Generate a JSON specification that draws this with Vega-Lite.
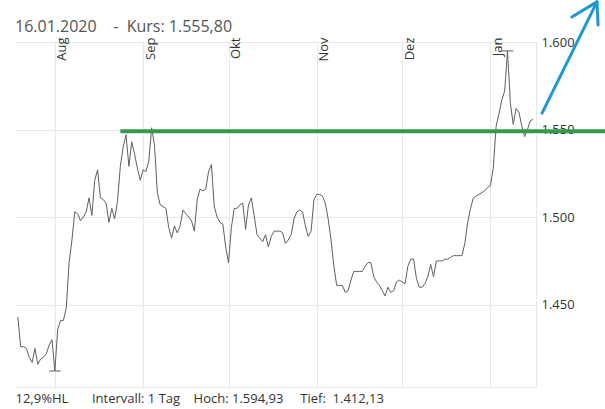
{
  "$schema": "https://vega.github.io/schema/vega-lite/v6.json",
  "width": 521,
  "height": 345,
  "autosize": "none",
  "padding": {"left": 15, "top": 42, "right": 69, "bottom": 22},
  "background": "white",
  "title": {
    "text": "16.01.2020\u00a0\u00a0\u00a0 -\u00a0 Kurs: 1.555,80",
    "anchor": "start",
    "frame": "group",
    "font": "Open Sans",
    "fontSize": 16,
    "fontWeight": "normal",
    "color": "#555555",
    "baseline": "alphabetic",
    "offset": 0,
    "dy": 48
  },
  "config": {
    "view": {"stroke": null},
    "axis": {"labelFont": "Open Sans", "titleFont": "Open Sans"}
  },
  "resolve": {"axis": {"x": "independent", "y": "independent"}},
  "layer": [
    {
      "data": {"values": [
        {"date":"2019-07-19","kurs":1443},{"date":"2019-07-20","kurs":1426},{"date":"2019-07-21","kurs":1426},{"date":"2019-07-22","kurs":1425},{"date":"2019-07-23","kurs":1420},{"date":"2019-07-24","kurs":1417},{"date":"2019-07-25","kurs":1425},{"date":"2019-07-26","kurs":1416},{"date":"2019-07-27","kurs":1419},{"date":"2019-07-28","kurs":1420},{"date":"2019-07-29","kurs":1422},{"date":"2019-07-30","kurs":1427},{"date":"2019-07-31","kurs":1430},
        {"date":"2019-08-01","kurs":1412.13},{"date":"2019-08-02","kurs":1436},{"date":"2019-08-03","kurs":1441},{"date":"2019-08-04","kurs":1441},{"date":"2019-08-05","kurs":1448},{"date":"2019-08-06","kurs":1474},{"date":"2019-08-07","kurs":1487},{"date":"2019-08-08","kurs":1503},{"date":"2019-08-09","kurs":1502},{"date":"2019-08-10","kurs":1498},{"date":"2019-08-11","kurs":1500},{"date":"2019-08-12","kurs":1503},{"date":"2019-08-13","kurs":1511},{"date":"2019-08-14","kurs":1501},{"date":"2019-08-15","kurs":1521},{"date":"2019-08-16","kurs":1527},{"date":"2019-08-17","kurs":1511},{"date":"2019-08-18","kurs":1510},{"date":"2019-08-19","kurs":1508},{"date":"2019-08-20","kurs":1497},{"date":"2019-08-21","kurs":1505},{"date":"2019-08-22","kurs":1499},{"date":"2019-08-23","kurs":1509},{"date":"2019-08-24","kurs":1529},{"date":"2019-08-25","kurs":1540},{"date":"2019-08-26","kurs":1547},{"date":"2019-08-27","kurs":1529},{"date":"2019-08-28","kurs":1543},{"date":"2019-08-29","kurs":1536},{"date":"2019-08-30","kurs":1528},{"date":"2019-08-31","kurs":1521},
        {"date":"2019-09-01","kurs":1527},{"date":"2019-09-02","kurs":1526},{"date":"2019-09-03","kurs":1532},{"date":"2019-09-04","kurs":1551},{"date":"2019-09-05","kurs":1541},{"date":"2019-09-06","kurs":1514},{"date":"2019-09-07","kurs":1507},{"date":"2019-09-08","kurs":1506},{"date":"2019-09-09","kurs":1505},{"date":"2019-09-10","kurs":1494},{"date":"2019-09-11","kurs":1488},{"date":"2019-09-12","kurs":1495},{"date":"2019-09-13","kurs":1491},{"date":"2019-09-14","kurs":1495},{"date":"2019-09-15","kurs":1504},{"date":"2019-09-16","kurs":1502},{"date":"2019-09-17","kurs":1500},{"date":"2019-09-18","kurs":1498},{"date":"2019-09-19","kurs":1492},{"date":"2019-09-20","kurs":1510},{"date":"2019-09-21","kurs":1516},{"date":"2019-09-22","kurs":1515},{"date":"2019-09-23","kurs":1516},{"date":"2019-09-24","kurs":1526},{"date":"2019-09-25","kurs":1530},{"date":"2019-09-26","kurs":1506},{"date":"2019-09-27","kurs":1500},{"date":"2019-09-28","kurs":1497},{"date":"2019-09-29","kurs":1496},{"date":"2019-09-30","kurs":1483},
        {"date":"2019-10-01","kurs":1474},{"date":"2019-10-02","kurs":1494},{"date":"2019-10-03","kurs":1505},{"date":"2019-10-04","kurs":1505},{"date":"2019-10-05","kurs":1507},{"date":"2019-10-06","kurs":1508},{"date":"2019-10-07","kurs":1493},{"date":"2019-10-08","kurs":1507},{"date":"2019-10-09","kurs":1511},{"date":"2019-10-10","kurs":1501},{"date":"2019-10-11","kurs":1490},{"date":"2019-10-12","kurs":1488},{"date":"2019-10-13","kurs":1486},{"date":"2019-10-14","kurs":1490},{"date":"2019-10-15","kurs":1483},{"date":"2019-10-16","kurs":1489},{"date":"2019-10-17","kurs":1492},{"date":"2019-10-18","kurs":1492},{"date":"2019-10-19","kurs":1492},{"date":"2019-10-20","kurs":1491},{"date":"2019-10-21","kurs":1485},{"date":"2019-10-22","kurs":1487},{"date":"2019-10-23","kurs":1490},{"date":"2019-10-24","kurs":1499},{"date":"2019-10-25","kurs":1503},{"date":"2019-10-26","kurs":1504},{"date":"2019-10-27","kurs":1503},{"date":"2019-10-28","kurs":1495},{"date":"2019-10-29","kurs":1489},{"date":"2019-10-30","kurs":1492},{"date":"2019-10-31","kurs":1510},
        {"date":"2019-11-01","kurs":1513},{"date":"2019-11-02","kurs":1513},{"date":"2019-11-03","kurs":1512},{"date":"2019-11-04","kurs":1508},{"date":"2019-11-05","kurs":1499},{"date":"2019-11-06","kurs":1487},{"date":"2019-11-07","kurs":1472},{"date":"2019-11-08","kurs":1461},{"date":"2019-11-09","kurs":1461},{"date":"2019-11-10","kurs":1461},{"date":"2019-11-11","kurs":1457},{"date":"2019-11-12","kurs":1458},{"date":"2019-11-13","kurs":1464},{"date":"2019-11-14","kurs":1469},{"date":"2019-11-15","kurs":1469},{"date":"2019-11-16","kurs":1469},{"date":"2019-11-17","kurs":1469},{"date":"2019-11-18","kurs":1472},{"date":"2019-11-19","kurs":1474},{"date":"2019-11-20","kurs":1474},{"date":"2019-11-21","kurs":1466},{"date":"2019-11-22","kurs":1463},{"date":"2019-11-23","kurs":1461},{"date":"2019-11-24","kurs":1458},{"date":"2019-11-25","kurs":1455},{"date":"2019-11-26","kurs":1460},{"date":"2019-11-27","kurs":1457},{"date":"2019-11-28","kurs":1458},{"date":"2019-11-29","kurs":1463},{"date":"2019-11-30","kurs":1464},
        {"date":"2019-12-01","kurs":1463},{"date":"2019-12-02","kurs":1462},{"date":"2019-12-03","kurs":1472},{"date":"2019-12-04","kurs":1476},{"date":"2019-12-05","kurs":1476},{"date":"2019-12-06","kurs":1465},{"date":"2019-12-07","kurs":1460},{"date":"2019-12-08","kurs":1460},{"date":"2019-12-09","kurs":1462},{"date":"2019-12-10","kurs":1466},{"date":"2019-12-11","kurs":1473},{"date":"2019-12-12","kurs":1466},{"date":"2019-12-13","kurs":1475},{"date":"2019-12-14","kurs":1475},{"date":"2019-12-15","kurs":1475},{"date":"2019-12-16","kurs":1476},{"date":"2019-12-17","kurs":1476},{"date":"2019-12-18","kurs":1477},{"date":"2019-12-19","kurs":1478},{"date":"2019-12-20","kurs":1478},{"date":"2019-12-21","kurs":1478},{"date":"2019-12-22","kurs":1478},{"date":"2019-12-23","kurs":1485},{"date":"2019-12-24","kurs":1497},{"date":"2019-12-25","kurs":1505},{"date":"2019-12-26","kurs":1511},{"date":"2019-12-27","kurs":1512},{"date":"2019-12-28","kurs":1513},{"date":"2019-12-29","kurs":1514},{"date":"2019-12-30","kurs":1515},{"date":"2019-12-31","kurs":1517},
        {"date":"2020-01-01","kurs":1518},{"date":"2020-01-02","kurs":1528},{"date":"2020-01-03","kurs":1552},{"date":"2020-01-04","kurs":1559},{"date":"2020-01-05","kurs":1567},{"date":"2020-01-06","kurs":1572},{"date":"2020-01-07","kurs":1594.93},{"date":"2020-01-08","kurs":1565},{"date":"2020-01-09","kurs":1553},{"date":"2020-01-10","kurs":1562},{"date":"2020-01-11","kurs":1560},{"date":"2020-01-12","kurs":1552},{"date":"2020-01-13","kurs":1546},{"date":"2020-01-14","kurs":1550},{"date":"2020-01-15","kurs":1555},{"date":"2020-01-16","kurs":1555.8}
      ]},
      "mark": {"type": "line", "color": "#5f5f5f", "strokeWidth": 1},
      "encoding": {
        "x": {
          "field": "date", "type": "temporal",
          "scale": {"type": "utc", "domain": [{"year": 2019, "month": 7, "date": 18, "utc": true}, {"year": 2020, "month": 1, "date": 17, "utc": true}]},
          "axis": {
            "orient": "top", "title": null,
            "values": [{"year": 2019, "month": 8, "date": 1, "utc": true}, {"year": 2019, "month": 9, "date": 1, "utc": true}, {"year": 2019, "month": 10, "date": 1, "utc": true}, {"year": 2019, "month": 11, "date": 1, "utc": true}, {"year": 2019, "month": 12, "date": 1, "utc": true}, {"year": 2020, "month": 1, "date": 1, "utc": true}],
            "labelExpr": "['Jan','Feb','Mär','Apr','Mai','Jun','Jul','Aug','Sep','Okt','Nov','Dez'][utcmonth(datum.value)]",
            "grid": true, "gridColor": "#e8e8e8", "gridWidth": 1,
            "ticks": false, "domain": false,
            "labelAngle": 270, "labelAlign": "right", "labelBaseline": "top",
            "labelPadding": 5, "labelOffset": 1,
            "labelFontSize": 13, "labelColor": "#333333"
          }
        },
        "y": {
          "field": "kurs", "type": "quantitative",
          "scale": {"domain": [1403, 1600], "zero": false, "nice": false},
          "axis": {
            "orient": "right", "title": null,
            "values": [1450, 1500, 1550, 1600],
            "labelExpr": "replace(format(datum.value, ',d'), ',', '.')",
            "grid": true, "gridColor": "#e8e8e8", "gridWidth": 1,
            "ticks": false, "domain": true, "domainColor": "#e8e8e8",
            "labelPadding": 5, "labelFontSize": 13, "labelColor": "#333333"
          }
        }
      }
    },
    {
      "data": {"values": [
        {"von": "2020-01-05", "bis": "2020-01-09", "wert": 1594.93},
        {"von": "2019-07-30", "bis": "2019-08-03", "wert": 1412.13}
      ]},
      "mark": {"type": "rule", "color": "#5f5f5f", "strokeWidth": 1},
      "encoding": {
        "x": {"field": "von", "type": "temporal", "axis": null},
        "x2": {"field": "bis"},
        "y": {"field": "wert", "type": "quantitative", "axis": null}
      }
    },
    {
      "data": {"values": [
        {"von": "2019-08-24", "bis": "2020-02-12", "wert": 1549}
      ]},
      "mark": {"type": "rule", "color": "#339a48", "strokeWidth": 4},
      "encoding": {
        "x": {
          "field": "von", "type": "temporal",
          "axis": {
            "orient": "bottom", "labels": false, "ticks": false, "grid": false,
            "domain": true, "domainColor": "#e8e8e8",
            "title": "12,9%HL\u00a0\u00a0\u00a0\u00a0\u00a0\u00a0 Intervall: 1 Tag\u00a0\u00a0\u00a0 Hoch: 1.594,93\u00a0\u00a0\u00a0\u00a0 Tief:\u00a0 1.412,13",
            "titleAnchor": "start", "titleAlign": "left", "titleFontSize": 13,
            "titleFontWeight": "normal", "titleColor": "#333333", "titlePadding": 5
          }
        },
        "x2": {"field": "bis"},
        "y": {"field": "wert", "type": "quantitative", "axis": null}
      }
    },
    {
      "data": {"values": [
        {"x1": "2020-01-19T03:00", "y1": 1559.4, "x2": "2020-02-07T10:00", "y2": 1622.9},
        {"x1": "2020-01-29T14:00", "y1": 1614.3, "x2": "2020-02-07T10:00", "y2": 1622.9},
        {"x1": "2020-02-07T19:00", "y1": 1609.7, "x2": "2020-02-07T10:00", "y2": 1622.9}
      ]},
      "mark": {"type": "rule", "color": "#1e98d5", "strokeWidth": 3, "strokeCap": "round"},
      "encoding": {
        "x": {"field": "x1", "type": "temporal", "axis": null},
        "x2": {"field": "x2"},
        "y": {"field": "y1", "type": "quantitative", "axis": null},
        "y2": {"field": "y2"}
      }
    }
  ]
}
